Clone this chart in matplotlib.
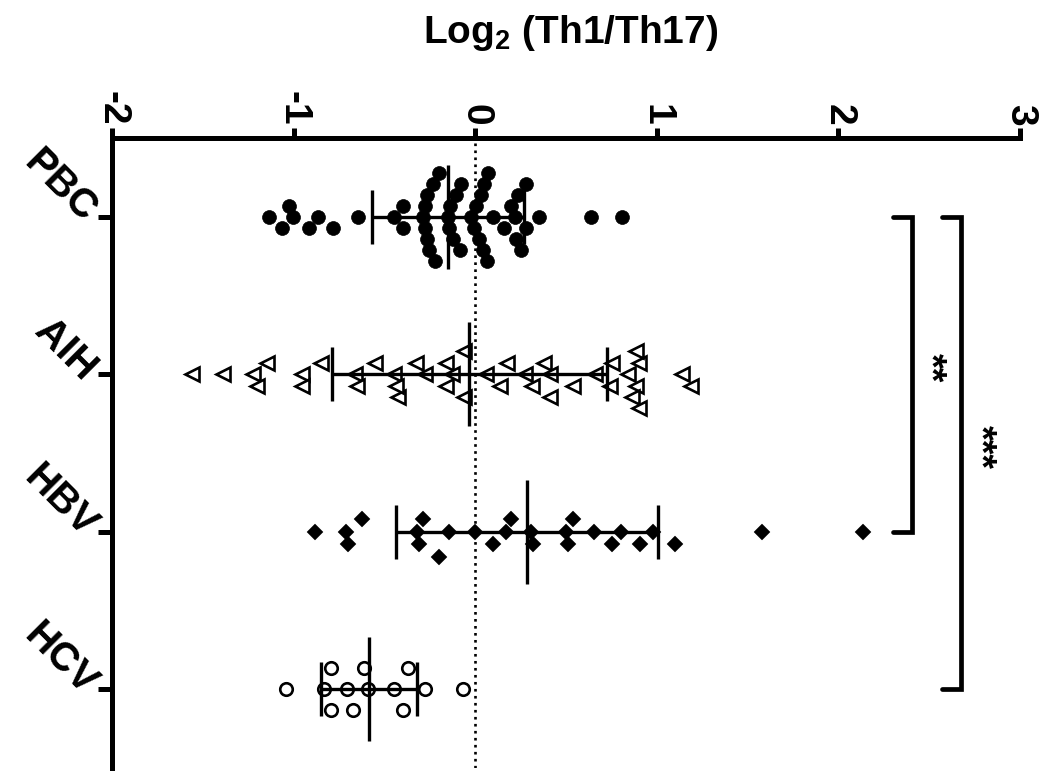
import numpy as np
import matplotlib
matplotlib.use('Agg')
import matplotlib.pyplot as plt

plt.rcParams['font.family'] = ['Liberation Sans', 'DejaVu Sans']
plt.rcParams['mathtext.fontset'] = 'custom'
plt.rcParams['mathtext.bf'] = 'Liberation Sans:bold'
plt.rcParams['mathtext.rm'] = 'Liberation Sans:bold'

# ---------------- data ----------------
categories = ['PBC', 'AIH', 'HBV', 'HCV']

pbc = [-1.137, -1.065, -1.023, -1.005, -0.916, -0.867, -0.784, -0.643,
       -0.445, -0.395, -0.395,
       -0.288, -0.279, -0.279, -0.264, -0.264, -0.252, -0.233, -0.224, -0.197,
       -0.150, -0.142, -0.138, -0.123, -0.105, -0.081, -0.077,
       -0.022, -0.005, 0.005, 0.020, 0.030, 0.045, 0.051, 0.066, 0.073,
       0.097, 0.158, 0.195, 0.217, 0.226, 0.235, 0.253, 0.277, 0.277,
       0.354, 0.639, 0.808]

aih = [-1.557, -1.390, -1.223, -1.203, -1.144, -0.956, -0.956, -0.848,
       -0.662, -0.652, -0.553, -0.445, -0.425, -0.435, -0.327, -0.278,
       -0.160, -0.160, -0.130, -0.061, -0.061, 0.057, 0.135, 0.175,
       0.273, 0.312, 0.381, 0.411, 0.411, 0.539, 0.657, 0.745, 0.755,
       0.844, 0.883, 0.863, 0.903, 0.883, 0.903, 1.139, 1.188]

hbv = [-0.884, -0.710, -0.703, -0.623, -0.322, -0.285, -0.307, -0.202,
       -0.143, -0.002, 0.096, 0.168, 0.198, 0.307, 0.321, 0.499, 0.510,
       0.538, 0.656, 0.756, 0.804, 0.909, 0.978, 1.098, 1.577, 2.137]

hcv = [-1.041, -0.834, -0.793, -0.793, -0.705, -0.674, -0.610, -0.588,
       -0.445, -0.399, -0.371, -0.279, -0.068]

means = [-0.150, -0.032, 0.285, -0.586]
sds = [0.416, 0.758, 0.722, 0.265]

xticks = [-2, -1, 0, 1, 2, 3]
xtick_labels = ['-2', '-1', '0', '1', '2', '3']

comparisons = [(0, 2, '**'), (0, 3, '***')]

title_text = r'Log$_\mathbf{2}$ (Th1/Th17)'

# ---------------- layout ----------------
W, H = 1043, 773
fig = plt.figure(figsize=(W / 100, H / 100), dpi=100)
ax_l, ax_b, ax_w, ax_h = 112, 5, 908, 630
ax = fig.add_axes([ax_l / W, ax_b / H, ax_w / W, ax_h / H])
ax.set_xlim(-2, 3)
ax.set_ylim(3.5, -0.5)

px_per_x = ax_w / 5.0
px_per_y = ax_h / 4.0


def swarm_offsets(values, step_px, gap_px):
    vals = np.asarray(values, dtype=float)
    order = np.argsort(vals, kind='stable')
    rows = {}
    offs = np.zeros(len(vals))
    seq = [0]
    for n in range(1, 40):
        seq += [n, -n]
    for i in order:
        x = vals[i] * px_per_x
        for r in seq:
            if all(abs(x - xo) >= gap_px for xo in rows.get(r, [])):
                rows.setdefault(r, []).append(x)
                offs[i] = r * step_px / px_per_y
                break
    return offs


groups = [pbc, aih, hbv, hcv]
styles = [
    dict(marker='o', ms=10, mfc='black', mec='black', mew=0.5),
    dict(marker='<', ms=10, mfc='white', mec='black', mew=1.9),
    dict(marker='D', ms=8, mfc='black', mec='black', mew=0.3),
    dict(marker='o', ms=9, mfc='white', mec='black', mew=1.9),
]
swarm_params = [(11, 21), (11.4, 24), (12.6, 22), (21, 20)]

# zero reference line
ax.axvline(0, ls=':', lw=1.9, color='black', zorder=1)

for i, (vals, st, (step, gap)) in enumerate(zip(groups, styles, swarm_params)):
    offs = swarm_offsets(vals, step, gap)
    ax.plot(vals, i + offs, ls='none', zorder=2, clip_on=False, **st)
    ax.errorbar(means[i], i, xerr=sds[i], fmt='none', ecolor='black',
                elinewidth=2.4, capsize=19.5, capthick=2.4, zorder=3)
    ax.plot([means[i]], [i], marker='|', ms=75, mew=2.4, color='black',
            ls='none', zorder=3)

# significance brackets
bracket_x = [2.406, 2.674]
arm = 0.105
text_x = [2.50, 2.775]
for (a, b, lab), bx, tx in zip(comparisons, bracket_x, text_x):
    ax.plot([bx - arm, bx, bx, bx - arm], [a, a, b, b], color='black', lw=3.4,
            solid_capstyle='round', solid_joinstyle='miter', clip_on=False,
            zorder=3)
    ax.text(tx, (a + b) / 2 - 0.04, lab, rotation=-90, ha='center', va='center',
            fontsize=27, fontweight='bold')

# axes styling
for s in ['right', 'bottom']:
    ax.spines[s].set_visible(False)
for s in ['top', 'left']:
    ax.spines[s].set_linewidth(3.6)

ax.xaxis.tick_top()
ax.set_xticks(xticks)
ax.set_xticklabels(xtick_labels, rotation=-90, fontsize=28, fontweight='bold')
ax.tick_params(axis='x', direction='out', length=7, width=3.6, pad=2)

ax.set_yticks(range(len(categories)))
ax.set_yticklabels(categories, rotation=-45, fontsize=29, fontweight='bold',
                   ha='right', va='center', rotation_mode='anchor')
ax.tick_params(axis='y', direction='out', length=10, width=3.6, pad=6)

fig.text(571 / W, 1 - 43 / H, title_text, ha='center', va='baseline',
         fontsize=28, fontweight='bold')

fig.savefig('out.png', dpi=100, facecolor='white')
